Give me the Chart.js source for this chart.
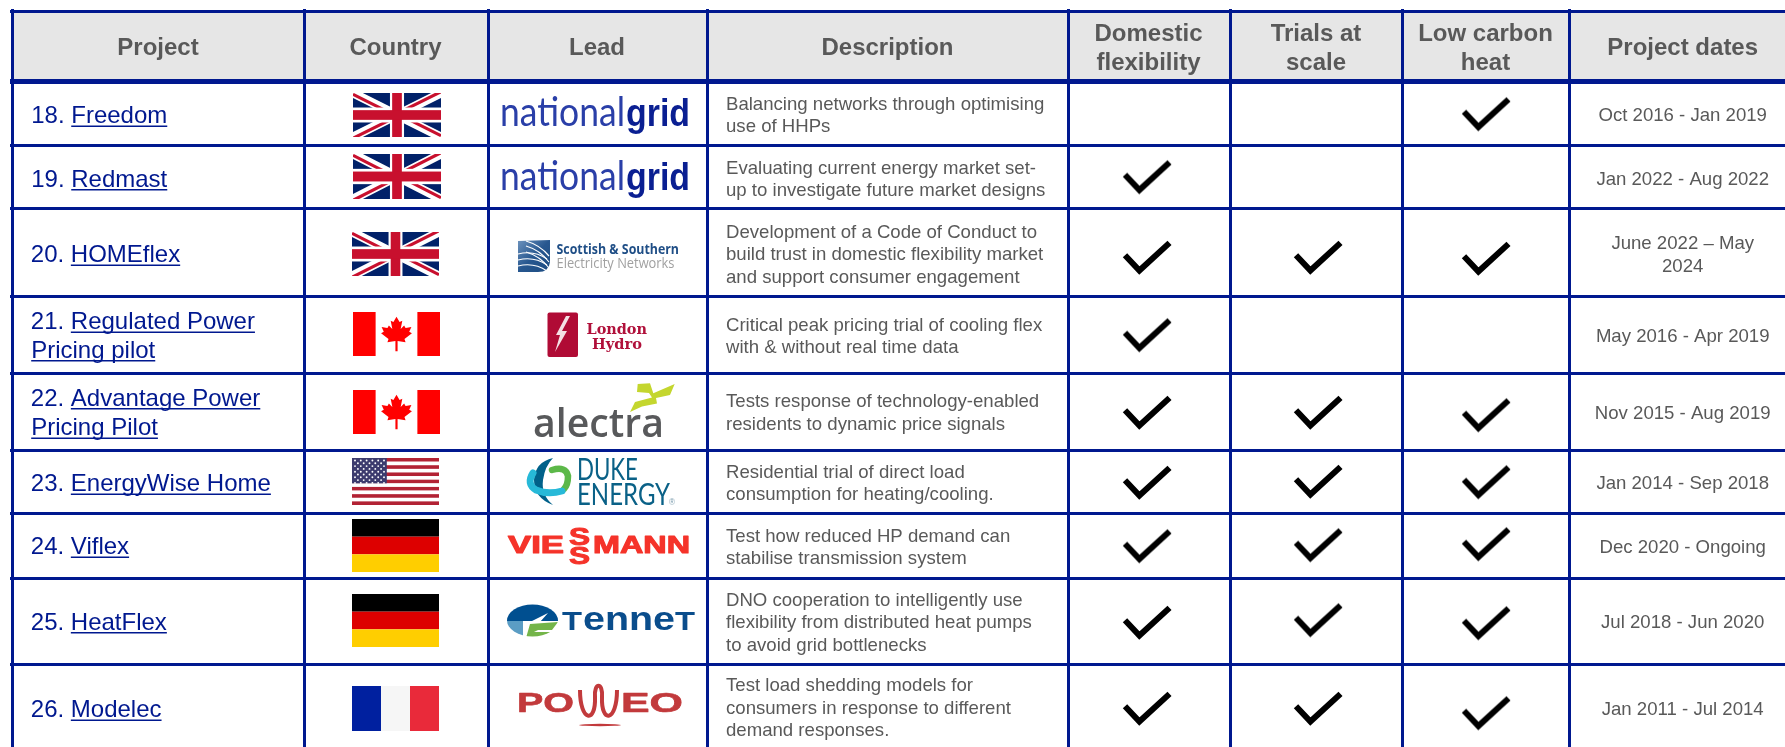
<!DOCTYPE html>
<html lang="en">
<head>
    <meta charset="UTF-8">
    <title>Domestic flexibility projects</title>
    <script src="https://cdn.jsdelivr.net/npm/chart.js"></script>
    <style>
        body { margin: 0; background: #ffffff; }
        canvas { display: block; }
    </style>
</head>
<body>
    <canvas id="projectTable" width="1785" height="747"></canvas>

    <script>
        // Table content
        var headers = [['Project'], ['Country'], ['Lead'], ['Description'], ['Domestic', 'flexibility'], ['Trials at', 'scale'], ['Low carbon', 'heat'], ['Project dates']];
        var numbers = ['18.', '19.', '20.', '21.', '22.', '23.', '24.', '25.', '26.'];
        var projects = [['Freedom'], ['Redmast'], ['HOMEflex'], ['Regulated Power', 'Pricing pilot'], ['Advantage Power', 'Pricing Pilot'], ['EnergyWise Home'], ['Viflex'], ['HeatFlex'], ['Modelec']];
        var countries = ['uk', 'uk', 'uk', 'ca', 'ca', 'us', 'de', 'de', 'fr'];
        var leads = ['nationalgrid', 'nationalgrid', 'sse', 'londonhydro', 'alectra', 'duke', 'viessmann', 'tennet', 'poweo'];
        var descriptions = [
            ['Balancing networks through optimising', 'use of HHPs'],
            ['Evaluating current energy market set-', 'up to investigate future market designs'],
            ['Development of a Code of Conduct to', 'build trust in domestic flexibility market', 'and support consumer engagement'],
            ['Critical peak pricing trial of cooling flex', 'with & without real time data'],
            ['Tests response of technology-enabled', 'residents to dynamic price signals'],
            ['Residential trial of direct load', 'consumption for heating/cooling.'],
            ['Test how reduced HP demand can', 'stabilise transmission system'],
            ['DNO cooperation to intelligently use', 'flexibility from distributed heat pumps', 'to avoid grid bottlenecks'],
            ['Test load shedding models for', 'consumers in response to different', 'demand responses.']
        ];
        var domestic = [0, 1, 1, 1, 1, 1, 1, 1, 1];
        var trials = [0, 0, 1, 0, 1, 1, 1, 1, 1];
        var lowCarbon = [1, 0, 1, 0, 1, 1, 1, 1, 1];
        var dates = [['Oct 2016 - Jan 2019'], ['Jan 2022 - Aug 2022'], ['June 2022 – May', '2024'], ['May 2016 - Apr 2019'], ['Nov 2015 - Aug 2019'], ['Jan 2014 - Sep 2018'], ['Dec 2020 - Ongoing'], ['Jul 2018 - Jun 2020'], ['Jan 2011 - Jul 2014']];

        // Layout, in axis units (the axes run 1:1 with the page)
        var columnEdges = [12, 304, 488, 707, 1068, 1230, 1402, 1569];
        var rowEdges = [11, 81.5, 145, 209, 296, 373, 450, 513, 578, 664];
        var headerX = [158, 395.5, 597, 887.5, 1148.5, 1316, 1485.5, 1682.7];
        var projectBase = [[123], [186.5], [262], [329, 357.5], [405.5, 435], [491], [554], [629.5], [717]];
        var descBase = [[110, 132], [174, 196], [238, 260, 283], [331, 353], [407, 430], [478, 500], [542, 564], [605.5, 628, 650.5], [691, 714, 736]];
        var dateBase = [[121], [185], [249, 272], [342], [419], [489], [553], [628], [715]];
        var flagBox = [[353, 93, 88, 44], [353, 154, 88, 45], [352, 232, 87, 44], [353, 312, 87, 44], [353, 390, 87, 44], [352, 458, 87, 47], [352, 519, 87, 53], [352, 594, 87, 53], [352, 686, 87, 45]];
        var checkX = [1147, 1318, 1486];
        var checkY = [
            [0, 0, 114.5], [177.5, 0, 0], [258, 258, 259], [335.5, 0, 0], [413, 413, 415.5],
            [483, 482, 482.5], [546.5, 545.5, 544.5], [623, 620.5, 623.5], [709, 709, 713.5]
        ];

        var navy = '#00188f';
        var grey = '#595959';
        var font = '"Liberation Sans", Arial, sans-serif';

        // Tick mark image used as point style
        function makeCheck() {
            var c = document.createElement('canvas');
            c.width = 52;
            c.height = 38;
            var g = c.getContext('2d');
            g.strokeStyle = '#000000';
            g.lineWidth = 6;
            g.lineJoin = 'miter';
            g.miterLimit = 10;
            g.beginPath();
            g.moveTo(4, 16.2);
            g.lineTo(18.4, 31.5);
            g.lineTo(48.5, 3.9);
            g.stroke();
            return c;
        }
        var checkImage = makeCheck();

        function checkPoints(values, col) {
            var pts = [];
            values.forEach(function (v, i) {
                if (v) pts.push({ x: checkX[col], y: checkY[i][col] });
            });
            return pts;
        }

        function fitText(ctx, text, x0, x1, base, f, color, heavy) {
            ctx.save();
            ctx.font = f;
            ctx.fillStyle = color;
            ctx.textAlign = 'left';
            ctx.textBaseline = 'alphabetic';
            var w = ctx.measureText(text).width;
            ctx.translate(x0, base);
            ctx.scale((x1 - x0) / w, 1);
            ctx.fillText(text, 0, 0);
            if (heavy) {
                ctx.strokeStyle = color;
                ctx.lineWidth = heavy;
                ctx.lineJoin = 'round';
                ctx.strokeText(text, 0, 0);
            }
            ctx.restore();
        }

        function poly(ctx, pts, color) {
            ctx.fillStyle = color;
            ctx.beginPath();
            pts.forEach(function (p, i) {
                if (i === 0) ctx.moveTo(p[0], p[1]); else ctx.lineTo(p[0], p[1]);
            });
            ctx.closePath();
            ctx.fill();
        }

        // Flags
        function drawFlag(ctx, kind, b) {
            var x = b[0], y = b[1], w = b[2], h = b[3];
            ctx.save();
            ctx.beginPath();
            ctx.rect(x, y, w, h);
            ctx.clip();
            if (kind === 'uk') {
                ctx.fillStyle = '#012169';
                ctx.fillRect(x, y, w, h);
                ctx.lineCap = 'butt';
                ctx.strokeStyle = '#ffffff';
                ctx.lineWidth = h * 0.2;
                ctx.beginPath();
                ctx.moveTo(x, y); ctx.lineTo(x + w, y + h);
                ctx.moveTo(x + w, y); ctx.lineTo(x, y + h);
                ctx.stroke();
                ctx.strokeStyle = '#c8102e';
                ctx.lineWidth = h * 0.07;
                ctx.beginPath();
                ctx.moveTo(x, y + h * 0.03); ctx.lineTo(x + w / 2, y + h * 0.53);
                ctx.moveTo(x + w, y + h * 0.97); ctx.lineTo(x + w / 2, y + h * 0.47);
                ctx.moveTo(x + w, y - h * 0.03); ctx.lineTo(x + w / 2, y + h * 0.47);
                ctx.moveTo(x, y + h * 1.03); ctx.lineTo(x + w / 2, y + h * 0.53);
                ctx.stroke();
                ctx.fillStyle = '#ffffff';
                ctx.fillRect(x + w * 0.42, y, w * 0.16, h);
                ctx.fillRect(x, y + h * 0.33, w, h * 0.34);
                ctx.fillStyle = '#c8102e';
                ctx.fillRect(x + w * 0.445, y, w * 0.11, h);
                ctx.fillRect(x, y + h * 0.39, w, h * 0.22);
            } else if (kind === 'ca') {
                ctx.fillStyle = '#ffffff';
                ctx.fillRect(x, y, w, h);
                ctx.fillStyle = '#ff0000';
                ctx.fillRect(x, y, w * 0.26, h);
                ctx.fillRect(x + w * 0.74, y, w * 0.26, h);
                var cx = x + w / 2, cy = y + h * 0.5, s = 16.5;
                var half = [[0, -1.05], [0.17, -0.72], [0.32, -0.8], [0.23, -0.3], [0.42, -0.52], [0.5, -0.36], [0.82, -0.42], [0.7, -0.13], [0.85, -0.04], [0.44, 0.3], [0.5, 0.5], [0.06, 0.43], [0.06, 1.05]];
                var leaf = half.map(function (p) { return [cx + p[0] * s * 1.1, cy + p[1] * s]; });
                for (var i = half.length - 1; i >= 0; i--) {
                    leaf.push([cx - half[i][0] * s * 1.1, cy + half[i][1] * s]);
                }
                poly(ctx, leaf, '#ff0000');
            } else if (kind === 'us') {
                var sh = h / 13;
                for (var r = 0; r < 13; r++) {
                    ctx.fillStyle = r % 2 === 0 ? '#b22234' : '#ffffff';
                    ctx.fillRect(x, y + r * sh, w, sh + 0.2);
                }
                ctx.fillStyle = '#3c3b6e';
                ctx.fillRect(x, y, w * 0.4, sh * 7);
                ctx.fillStyle = '#ffffff';
                for (var a = 0; a < 9; a++) {
                    var n = a % 2 === 0 ? 6 : 5;
                    for (var k = 0; k < n; k++) {
                        ctx.beginPath();
                        ctx.arc(x + (a % 2 === 0 ? 3 : 5.9) + k * 5.8, y + 2.5 + a * 2.8, 0.95, 0, 7);
                        ctx.fill();
                    }
                }
            } else if (kind === 'de') {
                ctx.fillStyle = '#000000';
                ctx.fillRect(x, y, w, h / 3);
                ctx.fillStyle = '#dd0000';
                ctx.fillRect(x, y + h / 3, w, h / 3);
                ctx.fillStyle = '#ffce00';
                ctx.fillRect(x, y + 2 * h / 3, w, h / 3);
            } else {
                ctx.fillStyle = '#00209f';
                ctx.fillRect(x, y, w / 3, h);
                ctx.fillStyle = '#f6f6f6';
                ctx.fillRect(x + w / 3, y, w / 3 + 0.5, h);
                ctx.fillStyle = '#e92a3a';
                ctx.fillRect(x + 2 * w / 3, y, w / 3, h);
            }
            ctx.restore();
        }

        // Lead logos, lettered with real text
        function logoNationalGrid(ctx, base) {
            fitText(ctx, 'national', 500, 625, base, '400 41px Lato, ' + font, '#2a3fa8');
            fitText(ctx, 'grid', 626, 690, base, 'bold 38px ' + font, '#0a1f92');
        }

        function logoSse(ctx) {
            var g = ctx.createLinearGradient(518, 240, 550, 272);
            g.addColorStop(0, '#6d93bd');
            g.addColorStop(0.5, '#27578f');
            g.addColorStop(1, '#1d4c82');
            ctx.fillStyle = g;
            ctx.beginPath();
            ctx.moveTo(518, 241);
            ctx.lineTo(550, 240);
            ctx.lineTo(550, 262);
            ctx.quadraticCurveTo(549, 272, 538, 272);
            ctx.lineTo(518, 272);
            ctx.closePath();
            ctx.fill();
            ctx.strokeStyle = '#ffffff';
            ctx.lineWidth = 1.2;
            [[241, 256], [246, 262], [252, 268]].forEach(function (s) {
                ctx.beginPath();
                ctx.moveTo(526, s[0]);
                ctx.quadraticCurveTo(540, s[0] + 4, 549, s[1]);
                ctx.stroke();
                ctx.beginPath();
                ctx.moveTo(518, s[1] - 2);
                ctx.quadraticCurveTo(534, s[1] - 6, 547, s[1] + 3);
                ctx.stroke();
            });
            fitText(ctx, 'Scottish & Southern', 556.5, 679, 254, 'bold 14px "Open Sans", ' + font, '#1f4e86');
            fitText(ctx, 'Electricity Networks', 556.5, 674.5, 268, '14px "Open Sans", ' + font, '#a0a0a0');
        }

        function logoLondonHydro(ctx) {
            ctx.fillStyle = '#b00b35';
            ctx.beginPath();
            ctx.roundRect(547.5, 312.5, 30.5, 44.5, 2);
            ctx.fill();
            poly(ctx, [[570, 316], [562, 331], [567, 331], [555, 352], [560, 335], [556, 335], [566, 316]], '#f4dfe4');
            fitText(ctx, 'London', 586.5, 647, 334, 'bold 15px "DejaVu Serif", ' + font, '#b0103a');
            fitText(ctx, 'Hydro', 592, 642, 348.5, 'bold 15px "DejaVu Serif", ' + font, '#b0103a');
        }

        function logoAlectra(ctx) {
            fitText(ctx, 'alectra', 533, 664, 437, '600 39px "Open Sans", ' + font, '#58595b');
            poly(ctx, [[637.7, 384], [650, 383.3], [653.3, 393.3], [674.7, 384], [670, 395], [656, 398], [657, 403.5], [642, 406.5], [630, 412], [635, 402], [652, 397.5], [649, 393], [637, 392]], '#c4d62e');
        }

        function logoDuke(ctx) {
            ctx.lineCap = 'round';
            ctx.strokeStyle = '#5cb849';
            ctx.lineWidth = 6.5;
            ctx.beginPath();
            ctx.moveTo(552, 470);
            ctx.quadraticCurveTo(566, 466, 568, 476);
            ctx.quadraticCurveTo(568, 485, 564, 489);
            ctx.stroke();
            ctx.fillStyle = '#00618a';
            ctx.beginPath();
            ctx.moveTo(553, 458);
            ctx.quadraticCurveTo(535, 462, 534, 480);
            ctx.quadraticCurveTo(534, 498, 553, 505);
            ctx.quadraticCurveTo(541, 495, 543, 480);
            ctx.quadraticCurveTo(545, 466, 553, 458);
            ctx.fill();
            ctx.strokeStyle = '#27b9d8';
            ctx.lineWidth = 7;
            ctx.beginPath();
            ctx.moveTo(533, 473);
            ctx.quadraticCurveTo(526, 484, 536, 490);
            ctx.quadraticCurveTo(548, 495, 562, 491);
            ctx.stroke();
            ctx.lineCap = 'butt';
            fitText(ctx, 'DUKE', 577, 638, 480, '400 30px Lato, ' + font, '#0a6187');
            fitText(ctx, 'ENERGY', 577, 670, 505, '400 30px Lato, ' + font, '#0a6187');
            fitText(ctx, '®', 669, 675, 505, '9px ' + font, '#7f9fb0');
        }

        function logoViessmann(ctx) {
            var red = '#f5332a';
            fitText(ctx, 'VIE', 508, 564, 552.5, 'bold 23px ' + font, red, 1);
            fitText(ctx, 'MANN', 593, 690, 552.5, 'bold 23px ' + font, red, 1);
            fitText(ctx, 'S', 569, 590, 545, 'bold 23px ' + font, red, 1);
            fitText(ctx, 'S', 569, 590, 564, 'bold 23px ' + font, red, 1);
        }

        function logoTennet(ctx) {
            ctx.save();
            ctx.beginPath();
            ctx.ellipse(532.5, 620.5, 25.5, 16, 0, 0, 7);
            ctx.clip();
            ctx.fillStyle = '#ffffff';
            ctx.fillRect(505, 604, 56, 34);
            ctx.fillStyle = '#004f90';
            ctx.fillRect(505, 604, 56, 17);
            poly(ctx, [[530, 622], [548, 613], [540, 622], [558, 622], [558, 640], [530, 640]], '#ffffff');
            ctx.fillStyle = '#5b9dc4';
            ctx.fillRect(505, 621, 18, 17);
            poly(ctx, [[530, 624], [558, 622], [552, 630], [538, 630], [534, 632], [552, 632], [540, 638], [526, 638]], '#74b54a');
            ctx.restore();
            fitText(ctx, 'T', 562, 582, 630, 'bold 25px ' + font, '#0a4d8c');
            fitText(ctx, 'enne', 583, 675, 630, 'bold 34px ' + font, '#0a4d8c');
            fitText(ctx, 'T', 675, 695, 630, 'bold 25px ' + font, '#0a4d8c');
        }

        function logoPoweo(ctx) {
            var red = '#c23a3c';
            fitText(ctx, 'PO', 517, 574, 712, 'bold 27px ' + font, red, 0.6);
            fitText(ctx, 'EO', 621, 683, 712, 'bold 27px ' + font, red, 0.6);
            ctx.strokeStyle = red;
            ctx.lineWidth = 4;
            ctx.beginPath();
            ctx.moveTo(580, 690);
            ctx.bezierCurveTo(580, 722, 596, 724, 595, 697);
            ctx.bezierCurveTo(594, 682, 603, 682, 602, 697);
            ctx.bezierCurveTo(601, 724, 617, 722, 617, 690);
            ctx.stroke();
            ctx.fillStyle = red;
            ctx.beginPath();
            ctx.ellipse(600, 725, 21, 1.2, 0, 0, 7);
            ctx.fill();
        }

        // Everything that is not grid or tick mark
        var tablePlugin = {
            id: 'tablePlugin',
            beforeDatasetsDraw: function (chart) {
                var ctx = chart.ctx;
                var X = function (v) { return chart.scales.x.getPixelForValue(v); };
                var Y = function (v) { return chart.scales.y.getPixelForValue(v); };
                ctx.save();
                ctx.textBaseline = 'alphabetic';

                // column headers
                ctx.textAlign = 'center';
                ctx.font = 'bold 24px ' + font;
                ctx.fillStyle = grey;
                headers.forEach(function (lines, c) {
                    var bases = lines.length === 2 ? [41, 70] : [55];
                    lines.forEach(function (t, i) {
                        ctx.fillText(t, X(headerX[c]), Y(bases[i]));
                    });
                });

                numbers.forEach(function (num, r) {
                    // project name with link underline
                    ctx.textAlign = 'left';
                    ctx.font = '24px ' + font;
                    ctx.fillStyle = navy;
                    var left = r < 2 ? 31.2 : 30.8;
                    var prefix = num + ' ';
                    ctx.fillText(prefix, X(left), Y(projectBase[r][0]));
                    projects[r].forEach(function (t, i) {
                        var start = i === 0 ? X(left) + ctx.measureText(prefix).width : X(31.2);
                        var base = Y(projectBase[r][i]);
                        ctx.fillText(t, start, base);
                        ctx.fillRect(start, base + 2.5, ctx.measureText(t).width, 1.5);
                    });

                    // description
                    ctx.font = '18.6px ' + font;
                    ctx.fillStyle = grey;
                    descriptions[r].forEach(function (t, i) {
                        ctx.fillText(t, X(726), Y(descBase[r][i]));
                    });

                    // dates
                    ctx.textAlign = 'center';
                    dates[r].forEach(function (t, i) {
                        ctx.fillText(t, X(1682.7), Y(dateBase[r][i]));
                    });

                    drawFlag(ctx, countries[r], flagBox[r]);

                    var lead = leads[r];
                    if (lead === 'nationalgrid') logoNationalGrid(ctx, r === 0 ? 126 : 190);
                    if (lead === 'sse') logoSse(ctx);
                    if (lead === 'londonhydro') logoLondonHydro(ctx);
                    if (lead === 'alectra') logoAlectra(ctx);
                    if (lead === 'duke') logoDuke(ctx);
                    if (lead === 'viessmann') logoViessmann(ctx);
                    if (lead === 'tennet') logoTennet(ctx);
                    if (lead === 'poweo') logoPoweo(ctx);
                });
                ctx.restore();
            },
            beforeDraw: function (chart) {
                // header band sits under the grid
                var ctx = chart.ctx;
                var x = chart.scales.x, y = chart.scales.y;
                ctx.fillStyle = '#e6e6e6';
                ctx.fillRect(x.getPixelForValue(columnEdges[0]), y.getPixelForValue(rowEdges[0]), 1785, y.getPixelForValue(rowEdges[1]) - y.getPixelForValue(rowEdges[0]));
            }
        };

        function checkDataset(values, col) {
            return {
                data: checkPoints(values, col),
                showLine: false,
                clip: false,
                pointStyle: checkImage,
                pointRadius: 26,
                pointHoverRadius: 26
            };
        }

        new Chart(document.getElementById('projectTable').getContext('2d'), {
            type: 'scatter',
            data: {
                datasets: [checkDataset(domestic, 0), checkDataset(trials, 1), checkDataset(lowCarbon, 2)]
            },
            options: {
                responsive: false,
                animation: false,
                layout: { autoPadding: false, padding: { left: 10, top: 9 } },
                plugins: { legend: { display: false }, tooltip: { enabled: false }, title: { display: false } },
                scales: {
                    x: {
                        type: 'linear',
                        min: 10,
                        max: 1785,
                        afterBuildTicks: function (axis) { axis.ticks = columnEdges.map(function (v) { return { value: v }; }); },
                        ticks: { display: false },
                        border: { display: false },
                        grid: { color: navy, lineWidth: 3, drawTicks: false }
                    },
                    y: {
                        type: 'linear',
                        reverse: true,
                        min: 9,
                        max: 747,
                        afterBuildTicks: function (axis) { axis.ticks = rowEdges.map(function (v) { return { value: v }; }); },
                        ticks: { display: false },
                        border: { display: false },
                        grid: {
                            color: navy,
                            drawTicks: false,
                            lineWidth: function (c) { return c.index === 1 ? 5 : 3; }
                        }
                    }
                }
            },
            plugins: [tablePlugin]
        });
    </script>
</body>
</html>
